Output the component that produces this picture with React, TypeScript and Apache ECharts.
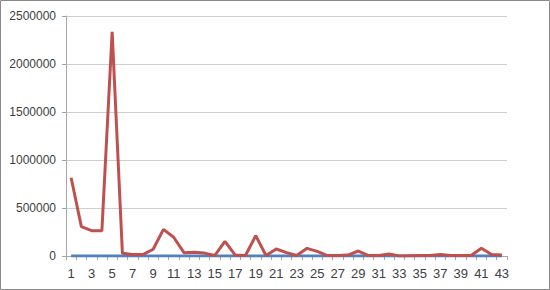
import React, { useEffect, useRef } from "react";
import * as echarts from "echarts";

const categories: string[] = Array.from({ length: 43 }, (_, i) => String(i + 1));
const redValues: number[] = [
  815000, 305000, 264000, 263000, 2336000, 28000, 15000, 15000, 70000, 278000,
  195000, 35000, 38000, 30000, 5000, 153000, 10000, 5000, 212000, 5000,
  73000, 35000, 5000, 80000, 48000, 5000, 5000, 10000, 52000, 5000,
  5000, 20000, 0, 3000, 5000, 5000, 15000, 5000, 5000, 5000,
  80000, 15000, 10000,
];
const blueValues: number[] = Array.from({ length: 43 }, () => 0);
const yTicks = { min: 0, max: 2500000, interval: 500000 };

export default function App() {
  const ref = useRef<HTMLDivElement>(null);
  useEffect(() => {
    if (!ref.current) return;
    const chart = echarts.init(ref.current, null, { renderer: "svg" });
    chart.setOption({
      animation: false,
      backgroundColor: "#ffffff",
      graphic: [
        {
          type: "rect",
          shape: { x: 0.5, y: 0.5, width: 549, height: 289 },
          style: { fill: "none", stroke: "#8a8a8a", lineWidth: 1 },
          z: 100,
        },
      ],
      grid: { left: 66, right: 43, top: 16, bottom: 34 },
      xAxis: {
        type: "category",
        data: categories,
        boundaryGap: true,
        axisLine: { lineStyle: { color: "#a6a6a6" } },
        axisTick: { show: true, interval: 0, length: 4, lineStyle: { color: "#a6a6a6" } },
        axisLabel: {
          interval: 1,
          color: "#404040",
          fontFamily: "Liberation Sans",
          fontSize: 13,
          margin: 11,
        },
      },
      yAxis: {
        type: "value",
        min: yTicks.min,
        max: yTicks.max,
        interval: yTicks.interval,
        axisLine: { show: true, lineStyle: { color: "#a6a6a6" } },
        axisTick: { show: true, length: 4, lineStyle: { color: "#a6a6a6" } },
        splitLine: { lineStyle: { color: "#cfcfcf", width: 1 } },
        axisLabel: {
          color: "#404040",
          fontFamily: "Liberation Sans",
          fontSize: 12,
          margin: 10,
          formatter: (v: number) => String(v),
        },
      },
      series: [
        {
          type: "line",
          data: blueValues,
          symbol: "none",
          lineStyle: { color: "#4f81bd", width: 3 },
          itemStyle: { color: "#4f81bd" },
        },
        {
          type: "line",
          data: redValues,
          symbol: "none",
          lineStyle: { color: "#c0504d", width: 3 },
          itemStyle: { color: "#c0504d" },
        },
      ],
    });
    return () => chart.dispose();
  }, []);
  return (
    <div
      ref={ref}
      style={{ position: "absolute", left: 0, top: 0, width: 550, height: 290 }}
    />
  );
}
